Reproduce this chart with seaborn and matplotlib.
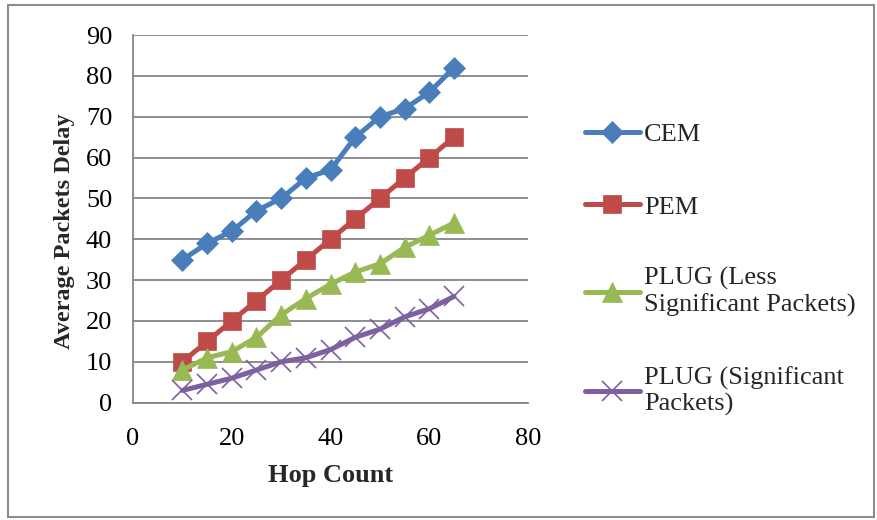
import pandas as pd
import seaborn as sns
import matplotlib
import matplotlib.pyplot as plt
from matplotlib.patches import Rectangle

matplotlib.use('Agg')

# data
hop_count = [10, 15, 20, 25, 30, 35, 40, 45, 50, 55, 60, 65]
cem = [35, 39, 42, 47, 50, 55, 57, 65, 70, 72, 76, 82]
pem = [10, 15, 20, 25, 30, 35, 40, 45, 50, 55, 60, 65]
plug_less = [8, 11, 12.5, 16, 21.5, 25.5, 29, 32, 34, 38, 41, 44]
plug_sig = [3, 4.5, 6, 8, 10, 11, 13, 16, 18, 21, 23, 26]

series_names = ["CEM", "PEM", "PLUG (Less\nSignificant Packets)", "PLUG (Significant\nPackets)"]
series_values = [cem, pem, plug_less, plug_sig]
colors = ["#4A7EBB", "#BE4B48", "#98B954", "#7D60A0"]
markers = ["D", "s", "^", "x"]
marker_sizes = [11, 13, 14, 14]

rows = []
for name, vals in zip(series_names, series_values):
    for x, y in zip(hop_count, vals):
        rows.append({"Hop Count": x, "Average Packets Delay": y, "series": name})
df = pd.DataFrame(rows)

sns.set_theme(style="white")
plt.rcParams['font.family'] = ['Liberation Serif', 'DejaVu Serif']

fig = plt.figure(figsize=(8.78, 5.20), dpi=100)
ax = fig.add_axes([0.1515, 0.2256, 0.45, 0.707])

for name, col, mk, ms in zip(series_names, colors, markers, marker_sizes):
    sub = df[df["series"] == name]
    sns.lineplot(data=sub, x="Hop Count", y="Average Packets Delay", ax=ax,
                 color=col, linewidth=3.6, marker=mk, markersize=ms,
                 markeredgecolor=col, markeredgewidth=1.2 if mk == "x" else 0.5,
                 label=name)

ax.set_xlim(0, 80)
ax.set_ylim(0, 90)
ax.set_xticks(range(0, 81, 20))
ax.set_yticks(range(0, 91, 10))
ax.yaxis.grid(True, color="#868686", linewidth=1.3)
ax.xaxis.grid(False)
for s in ["top", "right"]:
    ax.spines[s].set_visible(False)
for s in ["left", "bottom"]:
    ax.spines[s].set_color("#868686")
    ax.spines[s].set_linewidth(1.3)
ax.tick_params(axis="both", direction="out", length=6, width=1.3, color="#868686",
               labelsize=19, labelcolor="black", pad=9)
ax.tick_params(axis="x", pad=12)
ax.set_xlabel("Hop Count", fontsize=19, fontweight="bold", labelpad=10)
ax.set_ylabel("Average Packets Delay", fontsize=17.5, fontweight="bold")
ax.yaxis.set_label_coords(-0.147, 0.467)

leg = ax.legend(loc="upper left", bbox_to_anchor=(1.116, 0.79), frameon=False,
                fontsize=19, handlelength=2.1, handletextpad=0.15,
                labelspacing=1.85, borderaxespad=0)

fig.patches.append(Rectangle((8 / 878, 3 / 520), 866 / 878, 512 / 520,
                             transform=fig.transFigure, fill=False,
                             edgecolor="#8c8c8c", linewidth=1.5))

fig.savefig("out.png", dpi=100)
